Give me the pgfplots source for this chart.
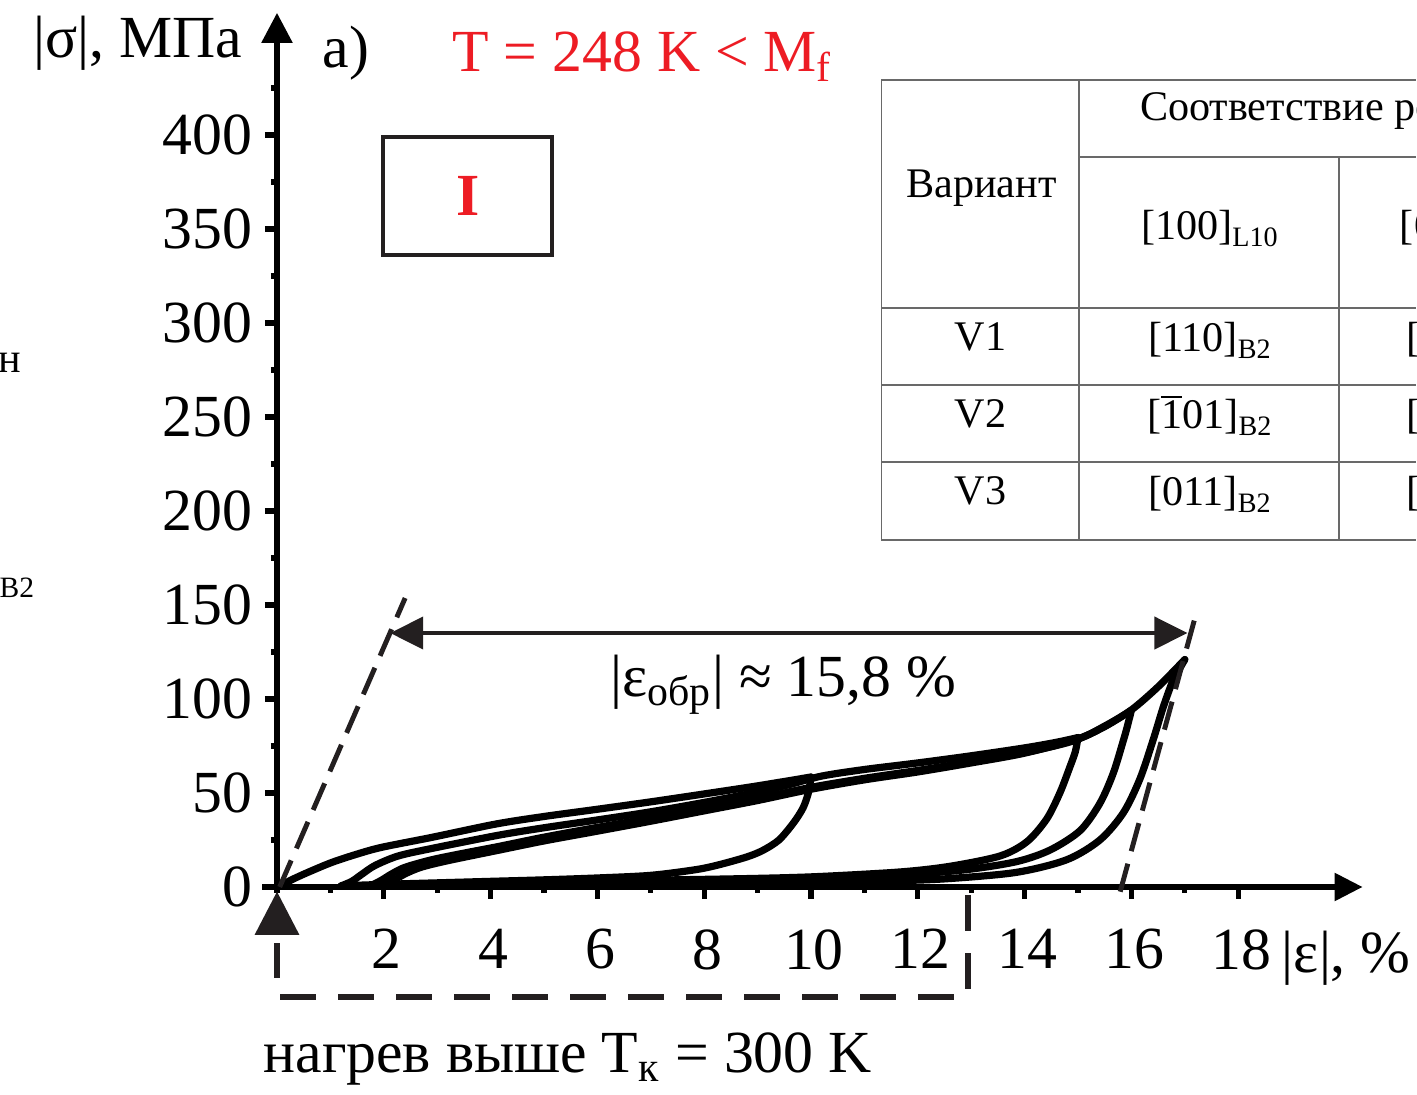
\documentclass[border=0pt]{standalone}
\usepackage{pgfplots}
\pgfplotsset{compat=1.18}
\usetikzlibrary{arrows.meta}
\usepackage{fontspec}
\setmainfont{Liberation Serif}

\definecolor{ink}{RGB}{35,31,32}
\definecolor{redtxt}{RGB}{237,28,36}
\definecolor{tabline}{RGB}{105,105,105}
\newcommand\bigf{\fontsize{17}{20}\selectfont}
\newcommand\tabf{\fontsize{12}{14}\selectfont}
% digit with a bar over it
\newcommand\ob[1]{\makebox[0pt][l]{\rule[0.72em]{0.5em}{0.06em}}#1}

\begin{document}
\begin{tikzpicture}
% page = 1417 x 1095 px, 1 px = 0.01 cm, axis origin at px (277,887)
\useasboundingbox (-2.77,-2.08) rectangle (11.40,8.87);
\clip (-2.77,-2.08) rectangle (11.40,8.87);

\begin{axis}[
  at={(0,0)}, anchor=origin,
  x=0.534cm, y=0.0188cm,
  xmin=-0.28, xmax=20.33, ymin=-3, ymax=465,
  axis lines=middle,
  enlargelimits=false,
  clip=false,
  axis line style={line width=1.55pt, black},
  every inner x axis line/.append style={-{Triangle[length=0.28cm,width=0.27cm]}},
  every inner y axis line/.append style={-{Triangle[length=0.3cm,width=0.3cm]}},
  xtick={2,4,...,18}, minor xtick={1,3,...,17},
  ytick={0,50,...,400}, minor ytick={25,75,...,425},
  tick align=outside,
  major tick length=0.12cm, minor tick length=0.06cm,
  tick style={line width=1.45pt, black},
  hide obscured x ticks=false, hide obscured y ticks=false,
  ticklabel style={font=\bigf},
  /pgf/number format/assume math mode=true,
  xticklabel style={yshift=-0.18cm, xshift=0.03cm},
  cycle/.style={smooth, black, line width=2.05pt, line cap=round},
]
% first loading to 10 %, unloading
\addplot[cycle] coordinates {
  (0,0) (0.15,2) (0.3,4.2) (0.58,7.8) (1.02,13) (1.5,17.5) (1.96,21.1)
  (2.9,26.4) (4.1,33.5) (5,37.5) (5.96,41.2) (7,45.3) (8,49.5) (9,53.8) (10,58.5)};
\addplot[cycle] coordinates {
  (10,58.5) (9.95,50) (9.85,42) (9.67,34) (9.4,25) (9.1,19.5) (8.8,16)
  (8.3,12) (7.86,9.3) (7,6.2) (6,4.8) (5,3.8) (4,3) (3,2.2) (2,1.4) (1.2,0.6)};
% second loading to 15 %, unloading
\addplot[cycle] coordinates {
  (1.2,0.6) (1.4,3) (1.6,7) (1.84,11.5) (2.27,16.5) (2.9,20.5) (4.14,27.5)
  (5,31.5) (5.96,35.5) (7,40) (8,45) (9,50.5) (9.6,54.5) (10.2,59) (11,62.5)
  (12,66) (13,69.8) (14,74) (14.6,77) (15,79.5)};
\addplot[cycle] coordinates {
  (15,79.5) (14.95,72) (14.85,64) (14.66,50) (14.41,36) (14.04,24) (13.54,16.5)
  (12.6,11) (11.67,8) (10.1,5.5) (8.86,4.5) (7,3.6) (5,2.8) (3,1.8) (1.75,0.6)};
% third loading to 16 %, unloading
\addplot[cycle] coordinates {
  (1.75,0.6) (1.95,3.5) (2.15,7) (2.4,10.5) (2.9,14.5) (3.5,18) (4.14,21.5)
  (5,26.5) (5.96,31.5) (7,36.5) (8,41.5) (9,47) (10,53) (11,57.8) (12,62)
  (13,66.5) (14,71.5) (14.9,77.6) (15.5,85.3) (16,94)};
\addplot[cycle] coordinates {
  (16,94) (15.92,85) (15.85,78) (15.66,60.5) (15.41,44.5) (15.04,30) (14.48,19.7)
  (13.85,13.5) (12.9,9.2) (11.67,6.4) (10,4.5) (8,3.5) (6,2.6) (4,1.8) (1.95,0.6)};
% fourth loading to 17 %, unloading
\addplot[cycle] coordinates {
  (1.95,0.6) (2.15,3) (2.4,7) (2.7,10.5) (3.2,14) (4.14,19.5) (5,24.5)
  (5.96,29.5) (7,35) (8,40.5) (9,46) (10,52) (11,57) (12,61.2) (13,66)
  (14,71.2) (15,78.8) (15.5,85.6) (16,94.2) (16.5,106.5) (17,121)};
\addplot[cycle] coordinates {
  (17,121) (16.9,116) (16.78,110) (16.6,96) (16.41,78.5) (16.16,57.5) (15.85,39.5)
  (15.41,25) (14.79,14.5) (13.85,7.8) (12.6,4.5) (11.67,3.4) (10,2.6) (8,2)
  (6,1.5) (4,1) (2.5,0.5)};

% elastic lines and the recoverable strain
\draw[ink, line width=1.4pt, dash pattern=on 0.29cm off 0.13cm]
  (axis cs:0.05,0) -- (axis cs:2.40,153.7);
\draw[ink, line width=1.4pt, dash pattern=on 0.29cm off 0.13cm]
  (axis cs:15.79,-2.5) -- (axis cs:17.23,147.3);
\draw[ink, line width=1.15pt,
  {Triangle[length=0.33cm,width=0.32cm]}-{Triangle[length=0.33cm,width=0.32cm]}]
  (axis cs:2.12,135.1) -- (axis cs:17.05,135.1);

% heating path back to the origin
\draw[ink, line width=1.7pt, dash pattern=on 0.36cm off 0.22cm]
  (axis cs:12.94,-4.3) -- (axis cs:12.94,-58.5) -- (axis cs:0,-58.5) -- (axis cs:0,-30);
\fill[ink] (axis cs:0,-2.5) -- (axis cs:0.42,-25.5) -- (axis cs:-0.42,-25.5) -- cycle;
\end{axis}

% texts and table, placed in pixel units
\begin{scope}[shift={(-2.77cm,8.87cm)}, x=0.01cm, y=-0.01cm]
  \node[anchor=base east, inner sep=0, font=\bigf] at (243,58) {|σ|, МПа};
  \node[anchor=base west, inner sep=0, font=\bigf] at (322,68) {а)};
  \node[anchor=base west, inner sep=0, font=\bigf, text=redtxt] at (452,72)
    {T = 248 K < M\textsubscript{f}};
  \draw[ink, line width=1.15pt] (383,137) rectangle (552,255);
  \node[font=\bigf\bfseries, text=redtxt] at (468,196) {I};
  \node[anchor=base west, inner sep=0, font=\bigf] at (610,697)
    {|ε\textsubscript{обр}| ≈ 15,8 \%};
  \node[anchor=base west, inner sep=0, font=\bigf] at (1282,973) {|ε|, \%};
  \node[anchor=base west, inner sep=0, font=\bigf] at (263,1073)
    {нагрев выше T\textsubscript{к} = 300 K};

  % fragments of the neighbouring panel, cut by the page edge
  \node[anchor=base west, inner sep=0, font=\tabf] at (-2,373) {н};
  \node[anchor=base west, inner sep=0, font=\fontsize{8.4}{10}\selectfont] at (-1,598) {B2};

  % table, cut by the page edge as in the source
  \draw[tabline, line width=0.55pt]
    (882,80) -- (1417,80)
    (1080,157) -- (1417,157)
    (882,308) -- (1417,308)
    (882,385) -- (1417,385)
    (882,462) -- (1417,462)
    (882,540) -- (1417,540)
    (882,80) -- (882,540)
    (1080,80) -- (1080,540)
    (1340,157) -- (1340,540);
  \begin{scope}[every node/.style={anchor=base, inner sep=0, font=\tabf}]
    \node[anchor=base west] at (1140,121) {Соответствие решеток};
    \node at (982,198) {Вариант};
    \node at (1211,240) {[100]\textsubscript{L10}};
    \node at (1470,240) {[010]\textsubscript{L10}};
    \node at (981,351) {V1};
    \node at (1211,352) {[110]\textsubscript{B2}};
    \node at (1470,352) {[\ob{1}10]\textsubscript{B2}};
    \node at (981,428) {V2};
    \node at (1211,429) {[\ob{1}01]\textsubscript{B2}};
    \node at (1470,429) {[101]\textsubscript{B2}};
    \node at (981,505) {V3};
    \node at (1211,506) {[011]\textsubscript{B2}};
    \node at (1470,506) {[01\ob{1}]\textsubscript{B2}};
  \end{scope}
\end{scope}
\end{tikzpicture}
\end{document}
